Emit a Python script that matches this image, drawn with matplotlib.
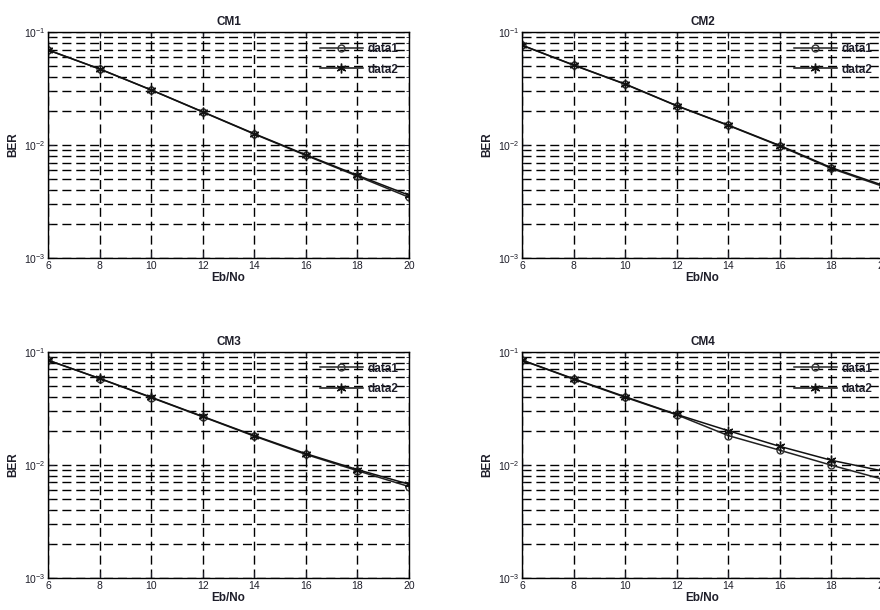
import matplotlib.pyplot as plt
import numpy as np

plt.rcParams['font.family'] = ['Liberation Sans', 'DejaVu Sans']

ebno = [6, 8, 10, 12, 14, 16, 18, 20]

cm1_data1 = [0.0693, 0.0471, 0.0307, 0.0196, 0.0125, 0.0081, 0.0053, 0.00345]
cm1_data2 = [0.0695, 0.0472, 0.0308, 0.0197, 0.0126, 0.0082, 0.0054, 0.00360]

cm2_data1 = [0.0763, 0.0509, 0.0345, 0.0222, 0.0149, 0.0098, 0.0062, 0.0043]
cm2_data2 = [0.0765, 0.0511, 0.0347, 0.0223, 0.0150, 0.0099, 0.0063, 0.0044]

cm3_data1 = [0.0845, 0.0582, 0.0395, 0.0267, 0.0180, 0.0124, 0.0089, 0.00644]
cm3_data2 = [0.0847, 0.0584, 0.0398, 0.0269, 0.0182, 0.0126, 0.0091, 0.00676]

cm4_data1 = [0.0845, 0.0575, 0.0397, 0.0278, 0.0182, 0.0135, 0.00995, 0.00746]
cm4_data2 = [0.0848, 0.0580, 0.0402, 0.0280, 0.0201, 0.0146, 0.0110, 0.00883]

titles = ['CM1', 'CM2', 'CM3', 'CM4']
series = [(cm1_data1, cm1_data2), (cm2_data1, cm2_data2),
          (cm3_data1, cm3_data2), (cm4_data1, cm4_data2)]

# axes boxes in figure fractions (right column runs past the edge like the original)
w, h = 0.4102, 0.3705
boxes = [[0.0545, 0.577, w, h], [0.5932, 0.577, w, h],
         [0.0545, 0.0525, w, h], [0.5932, 0.0525, w, h]]

txt = '#1e1e2a'
fig = plt.figure(figsize=(8.8, 6.1), dpi=100)

for box, title, (d1, d2) in zip(boxes, titles, series):
    ax = fig.add_axes(box)
    ax.set_yscale('log')
    ax.plot(ebno, d1, color='#222222', lw=1.1, marker='o', ms=5,
            mfc='none', mec='#333333', label='data1')
    ax.plot(ebno, d2, color='#111111', lw=1.1, marker=(6, 2, 0), ms=7,
            mec='#111111', label='data2')
    ax.set_xlim(6, 20)
    ax.set_ylim(1e-3, 1e-1)
    ax.set_xticks(ebno)
    ax.grid(True, which='both', axis='y', color='black', lw=1.0,
            linestyle=(0, (6.5, 3.5)))
    ax.grid(True, which='major', axis='x', color='black', lw=1.0,
            linestyle=(0, (6.5, 3.5)))
    ax.tick_params(which='both', direction='in', top=True, right=True,
                   labelsize=7.5, colors=txt, pad=2)
    ax.tick_params(which='major', length=4)
    ax.tick_params(which='minor', length=2)
    for s in ax.spines.values():
        s.set_linewidth(1.0)
        s.set_color('black')
    ax.set_title(title, fontsize=8.5, fontweight='bold', color=txt, pad=5)
    ax.set_xlabel('Eb/No', fontsize=8.5, fontweight='bold', color=txt, labelpad=1)
    ax.set_ylabel('BER', fontsize=8.5, fontweight='bold', color=txt, labelpad=3)
    leg = ax.legend(loc='upper right', fontsize=8.5, borderaxespad=0.0,
                    handlelength=3.6, handletextpad=0.4, framealpha=0.0,
                    fancybox=False, borderpad=0.9, labelspacing=0.75)
    leg.get_frame().set_linestyle(':')
    leg.get_frame().set_edgecolor('black')
    for t in leg.get_texts():
        t.set_color(txt)
        t.set_fontweight('bold')

fig.savefig('out.png', dpi=100)
